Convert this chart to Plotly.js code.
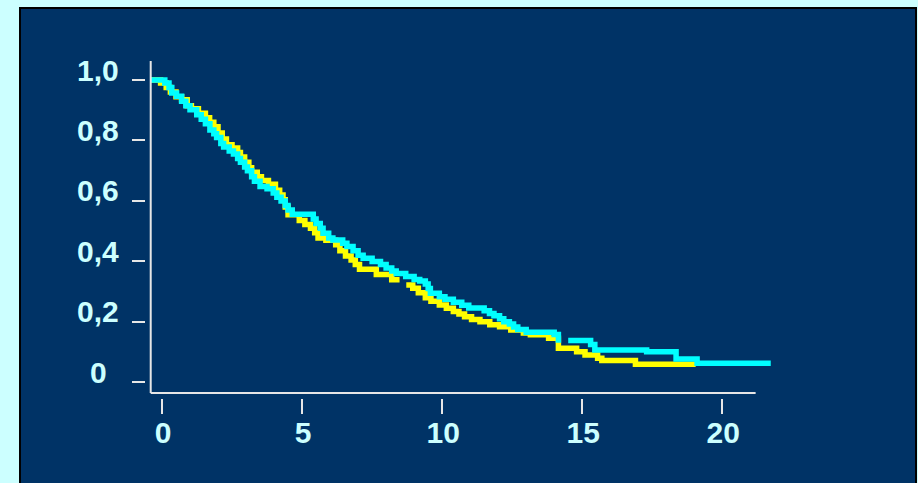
<!DOCTYPE html>
<html>
<head>
<meta charset="utf-8">
<script src="https://cdn.plot.ly/plotly-3.0.1.min.js"></script>
<style>html,body{margin:0;padding:0;background:#ccffff;}</style>
</head>
<body>
<div id="chart" style="width:918px;height:483px;"></div>
<script>
// Survival curves (step functions)
const cyanTime = [-0.4,0.1,0.25,0.35,0.52,0.7,0.85,1.0,1.24,1.4,1.55,1.71,1.85,1.95,2.1,2.2,2.4,2.55,2.7,2.8,2.95,3.05,3.2,3.3,3.5,3.75,3.97,4.1,4.25,4.4,4.5,4.65,5.4,5.5,5.65,5.75,5.95,6.1,6.45,6.6,6.82,7.0,7.18,7.5,7.8,8.0,8.2,8.36,8.7,9.0,9.2,9.4,9.5,9.58,9.9,10.1,10.4,10.7,10.95,11.5,11.69,11.85,12.05,12.2,12.4,12.55,12.7,13.0,14.0,14.15,14.25,null,14.5,15.3,15.45,17.3,18.35,19.1,21.73];
const cyanSurv = [1.0,0.99,0.975,0.957,0.946,0.93,0.915,0.902,0.885,0.87,0.855,0.835,0.822,0.81,0.79,0.778,0.765,0.755,0.74,0.728,0.712,0.70,0.68,0.665,0.648,0.64,0.626,0.612,0.60,0.585,0.57,0.556,0.54,0.525,0.51,0.493,0.477,0.471,0.46,0.449,0.435,0.42,0.41,0.40,0.39,0.378,0.368,0.36,0.35,0.34,0.335,0.325,0.31,0.295,0.283,0.275,0.265,0.255,0.246,0.237,0.228,0.22,0.21,0.20,0.193,0.183,0.175,0.166,0.158,0.14,0.14,null,0.138,0.125,0.107,0.101,0.077,0.063,0.063];

const yellowTime = [-0.4,-0.05,0.15,0.3,0.5,0.7,0.9,1.05,1.3,1.55,1.7,1.85,2.0,2.15,2.3,2.5,2.7,2.8,2.95,3.1,3.2,3.4,3.55,3.8,4.05,4.2,4.32,4.4,4.5,4.9,5.1,5.3,5.45,5.57,5.85,6.2,6.35,6.55,6.75,6.9,7.05,7.65,8.2,8.48,null,8.72,8.95,9.15,9.4,9.6,9.9,10.15,10.4,10.6,10.8,11.05,11.35,11.7,12.05,12.45,12.9,13.15,13.8,14.15,14.8,15.1,15.55,15.7,16.9,19.05];
const yellowSurv = [1.0,0.99,0.975,0.96,0.945,0.935,0.915,0.905,0.89,0.875,0.86,0.845,0.825,0.805,0.786,0.775,0.76,0.745,0.728,0.71,0.695,0.68,0.668,0.655,0.635,0.62,0.604,0.58,0.554,0.535,0.522,0.51,0.495,0.477,0.47,0.455,0.435,0.418,0.405,0.39,0.374,0.357,0.339,0.339,null,0.322,0.311,0.296,0.28,0.268,0.256,0.245,0.234,0.226,0.217,0.208,0.20,0.19,0.184,0.173,0.163,0.157,0.146,0.113,0.101,0.09,0.08,0.072,0.06,0.06];

const xTickVals = [0,5,10,15,20];
const xTickText = ['0','5','10','15','20'];
const yTickVals = [0,0.2,0.4,0.6,0.8,1.0];
const yTickText = ['0','0,2','0,4','0,6','0,8','1,0'];

const labelFont = {family:'Liberation Sans, Arial, sans-serif', size:30, weight:'bold', color:'#ccffff'};
const axisColor = '#e6e6e6';

const traces = [
  {x: yellowTime, y: yellowSurv, type:'scatter', mode:'lines', line:{shape:'hv', color:'#ffff00', width:5.5}, connectgaps:false, hoverinfo:'skip'},
  {x: cyanTime, y: cyanSurv, type:'scatter', mode:'lines', line:{shape:'hv', color:'#00ffff', width:5.5}, connectgaps:false, hoverinfo:'skip'}
];

// y tick labels are centred in a column (as in the reference), so they are placed as annotations
const yLabelAnnotations = yTickVals.map((v, i) => ({
  xref:'paper', yref:'y', x:(98-146)/634, y:v, yshift:10,
  text:yTickText[i], showarrow:false, xanchor:'center', yanchor:'middle', font:labelFont
}));

const layout = {
  width:918, height:483,
  margin:{l:146, r:138, t:60, b:85},
  paper_bgcolor:'#ccffff',
  plot_bgcolor:'rgba(0,0,0,0)',
  showlegend:false,
  xaxis:{range:[-0.571,22.06], tickvals:xTickVals, ticktext:xTickText, ticks:'outside', ticklen:15, tickwidth:2, tickcolor:axisColor,
         showgrid:false, zeroline:false, showline:false, tickfont:labelFont, ticklabelstandoff:-7, ticklabelshift:1, fixedrange:true},
  yaxis:{range:[-0.0519,1.0662], tickvals:yTickVals, ticks:'outside', ticklen:13, tickwidth:2, tickcolor:axisColor,
         showgrid:false, zeroline:false, showline:false, showticklabels:false, fixedrange:true},
  annotations: yLabelAnnotations,
  shapes:[
    {type:'rect', xref:'paper', yref:'paper', x0:(20-146)/634, x1:(916-146)/634, y0:(398-492)/338, y1:(398-8)/338,
     fillcolor:'#003366', line:{color:'#000000', width:2}, layer:'below'},
    {type:'line', xref:'x', yref:'y', x0:-0.403, x1:-0.403, y0:-0.0354, y1:1.063, line:{color:axisColor, width:2}},
    {type:'line', xref:'x', yref:'y', x0:-0.403, x1:21.19, y0:-0.0354, y1:-0.0354, line:{color:axisColor, width:2}}
  ]
};

Plotly.newPlot('chart', traces, layout, {displayModeBar:false, staticPlot:true});
</script>
</body>
</html>
